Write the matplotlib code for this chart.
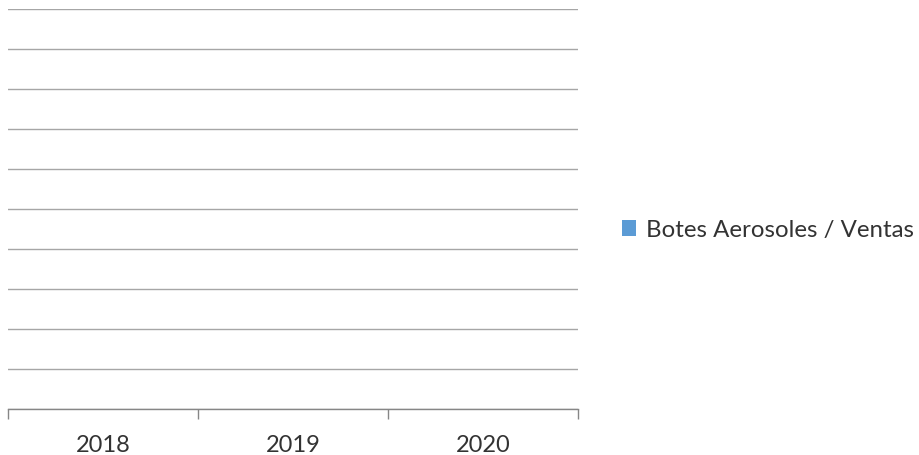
import matplotlib
matplotlib.use("Agg")
import matplotlib.pyplot as plt
from matplotlib.patches import Patch
import numpy as np

categories = ["2018", "2019", "2020"]
values = [0, 0, 0]
series_name = "Botes Aerosoles / Ventas"
y_ticks = [0, 1, 2, 3, 4, 5, 6, 7, 8, 9, 10]

plt.rcParams['font.family'] = ['Lato', 'DejaVu Sans']

fig = plt.figure(figsize=(9.2, 4.56), dpi=100)
ax = fig.add_axes([8/920, (456-410)/456, 570/920, 400/456])

x = np.arange(len(categories))
ax.bar(x, values, width=0.6, color="#5B9BD5")
ax.set_xlim(-0.5, len(categories) - 0.5)
ax.set_ylim(y_ticks[0], y_ticks[-1])
ax.set_yticks(y_ticks)
ax.yaxis.grid(True, color="#A6A6A6", linewidth=1.0)
ax.set_axisbelow(True)
ax.tick_params(axis='y', left=False, labelleft=False)

ax.set_xticks(np.arange(len(categories) + 1) - 0.5)
ax.set_xticklabels([])
ax.set_xticks(x, minor=True)
ax.set_xticklabels(categories, minor=True, fontsize=17, color="#333333")
ax.tick_params(axis='x', which='major', direction='out', length=7, width=1, color="#868686")
ax.tick_params(axis='x', which='minor', length=0, pad=18)

for s in ['top', 'right', 'left']:
    ax.spines[s].set_visible(False)
ax.spines['bottom'].set_color("#868686")
ax.spines['bottom'].set_linewidth(1)

handle = Patch(facecolor="#5B9BD5", edgecolor="none", label=series_name)
fig.legend(handles=[handle], loc='center left', bbox_to_anchor=(605/920, 1 - 231/456),
           frameon=False, fontsize=17.3, handlelength=0.6, handleheight=0.6,
           handletextpad=0.4, labelcolor="#333333", borderpad=0.2)

fig.savefig("out.png", dpi=100)
